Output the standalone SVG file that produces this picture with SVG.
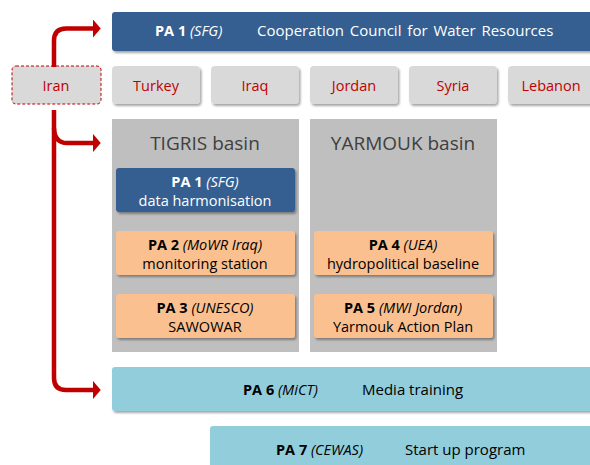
<svg xmlns="http://www.w3.org/2000/svg" width="590" height="465" viewBox="0 0 590 465">
<style>
text{font-family:"Open Sans","Liberation Sans",sans-serif}
.w{fill:#fff;font-size:14.5px}
.k{fill:#000;font-size:14.5px}
.c{fill:#c00000;font-size:14.5px;text-anchor:middle}
.b{font-weight:bold}
.i{font-style:italic}
.t{fill:#404040;font-size:19px;text-anchor:middle}
.mid{text-anchor:middle}
.big{font-size:15px}
.arr{fill:none;stroke:#c00000;stroke-width:4.5}
</style>
<defs>
<filter id="sh" x="-10%" y="-20%" width="130%" height="150%">
<feDropShadow dx="1.5" dy="2" stdDeviation="1.2" flood-color="#000" flood-opacity="0.35"/>
</filter>
<marker id="ah" markerWidth="2.2" markerHeight="4.2" refX="0.3" refY="2.1" orient="auto" markerUnits="strokeWidth">
<path d="M0,0 L1.8,2.1 L0,4.2 Z" fill="#c00000"/>
</marker>
</defs>
<rect width="590" height="465" fill="#fff"/>
<g id="pa1-top">
<rect x="112" y="12" width="484" height="39" rx="3" fill="#365f91" filter="url(#sh)"/>
<text x="155" y="36" class="w"><tspan class="b">PA 1</tspan> <tspan class="i">(SFG)</tspan><tspan x="257" class="big" word-spacing="2">Cooperation Council for Water Resources</tspan></text>
</g>
<g id="iran">
<rect x="12" y="66" width="89" height="38" rx="4" fill="#d9d9d9" stroke="#c00000" stroke-width="1" stroke-dasharray="3,2"/>
<text x="56" y="91" class="c">Iran</text>
</g>
<g id="turkey"><rect x="112" y="66" width="88" height="38" rx="4" fill="#d9d9d9" filter="url(#sh)"/><text x="156" y="91" class="c">Turkey</text></g>
<g id="iraq"><rect x="211" y="66" width="88" height="38" rx="4" fill="#d9d9d9" filter="url(#sh)"/><text x="255" y="91" class="c">Iraq</text></g>
<g id="jordan"><rect x="310" y="66" width="88" height="38" rx="4" fill="#d9d9d9" filter="url(#sh)"/><text x="354" y="91" class="c">Jordan</text></g>
<g id="syria"><rect x="409" y="66" width="88" height="38" rx="4" fill="#d9d9d9" filter="url(#sh)"/><text x="453" y="91" class="c">Syria</text></g>
<g id="lebanon"><rect x="508" y="66" width="96" height="38" rx="4" fill="#d9d9d9" filter="url(#sh)"/><text x="551" y="91" class="c">Lebanon</text></g>
<g id="tigris">
<rect x="112" y="119" width="187" height="233" fill="#bfbfbf"/>
<text x="205" y="150" class="t">TIGRIS basin</text>
</g>
<g id="yarmouk">
<rect x="310" y="119" width="187" height="233" fill="#bfbfbf"/>
<text x="403" y="150" class="t">YARMOUK basin</text>
</g>
<g id="pa1">
<rect x="116" y="168" width="179" height="44" rx="3" fill="#365f91" filter="url(#sh)"/>
<text x="205" y="187" class="w mid"><tspan class="b">PA 1</tspan> <tspan class="i">(SFG)</tspan></text>
<text x="205" y="206" class="w mid">data harmonisation</text>
</g>
<g id="pa2">
<rect x="116" y="231" width="179" height="44" rx="3" fill="#fac090" filter="url(#sh)"/>
<text x="205" y="250" class="k mid"><tspan class="b">PA 2</tspan> <tspan class="i">(MoWR Iraq)</tspan></text>
<text x="205" y="269" class="k mid">monitoring station</text>
</g>
<g id="pa3">
<rect x="116" y="294" width="179" height="44" rx="3" fill="#fac090" filter="url(#sh)"/>
<text x="205" y="313" class="k mid"><tspan class="b">PA 3</tspan> <tspan class="i">(UNESCO)</tspan></text>
<text x="205" y="332" class="k mid">SAWOWAR</text>
</g>
<g id="pa4">
<rect x="314" y="231" width="179" height="44" rx="3" fill="#fac090" filter="url(#sh)"/>
<text x="403" y="250" class="k mid"><tspan class="b">PA 4</tspan> <tspan class="i">(UEA)</tspan></text>
<text x="403" y="269" class="k mid">hydropolitical baseline</text>
</g>
<g id="pa5">
<rect x="314" y="294" width="179" height="44" rx="3" fill="#fac090" filter="url(#sh)"/>
<text x="403" y="313" class="k mid"><tspan class="b">PA 5</tspan> <tspan class="i">(MWI Jordan)</tspan></text>
<text x="403" y="332" class="k mid">Yarmouk Action Plan</text>
</g>
<g id="pa6">
<rect x="112" y="367" width="490" height="44" rx="3" fill="#92cddc" filter="url(#sh)"/>
<text x="243" y="395" class="k"><tspan class="b">PA 6</tspan> <tspan class="i">(MiCT)</tspan><tspan x="362" class="big">Media training</tspan></text>
</g>
<g id="pa7">
<rect x="210" y="426" width="392" height="50" rx="3" fill="#92cddc" filter="url(#sh)"/>
<text x="276" y="455" class="k"><tspan class="b">PA 7</tspan> <tspan class="i">(CEWAS)</tspan><tspan x="405" class="big">Start up program</tspan></text>
</g>
<g id="connectors">
<path class="arr" d="M54,67 V41 Q54,28.5 66,28.5 H94" marker-end="url(#ah)"/>
<path class="arr" d="M54,110 V378 Q54,390 66,390 H94" marker-end="url(#ah)"/>
<path class="arr" d="M54,128 Q54.5,143 67,143 H94" marker-end="url(#ah)"/>
</g>
</svg>
